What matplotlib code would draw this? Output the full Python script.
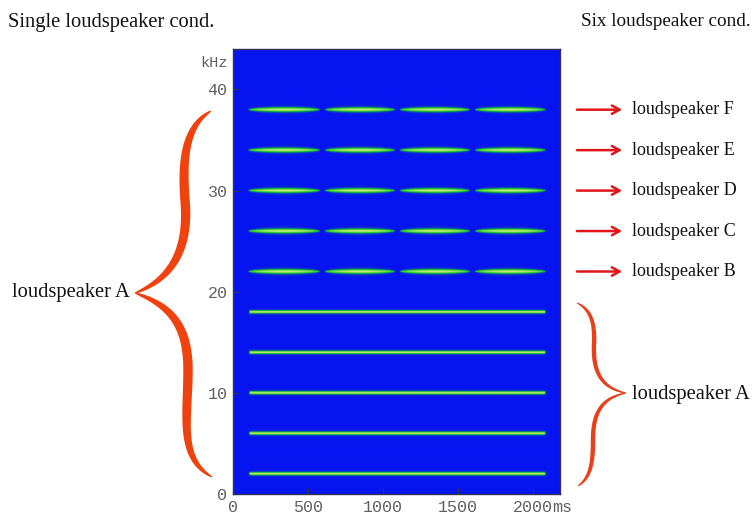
import matplotlib.pyplot as plt
import numpy as np
from matplotlib.colors import LinearSegmentedColormap
from matplotlib.patches import Polygon

# tones (kHz)
single_freqs = [2, 6, 10, 14, 18]          # continuous tones, loudspeaker A
six_freqs = [22, 26, 30, 34, 38]           # pulsed tones, loudspeakers B..F
six_labels = ['loudspeaker B', 'loudspeaker C', 'loudspeaker D',
              'loudspeaker E', 'loudspeaker F']

# timing (ms)
tone_on, tone_off = 100, 2090
burst_starts = [100, 610, 1110, 1610]
burst_ends = [580, 1080, 1580, 2085]

t_max, f_max = 2180, 44
x_ticks = [0, 500, 1000, 1500, 2000]
y_ticks = [0, 10, 20, 30, 40]

# build spectrogram-like image from the tone lists
t = np.arange(0, t_max, 2.0)
f = np.arange(0, f_max, 0.02)
T, F = np.meshgrid(t, f)
img = np.zeros_like(T)

for f0 in single_freqs:
    env = np.clip((T - tone_on) / 15, 0, 1) * np.clip((tone_off - T) / 15, 0, 1)
    img = np.maximum(img, env * np.exp(-(F - f0) ** 2 / (2 * 0.12 ** 2)))

for f0 in six_freqs:
    for t0, t1 in zip(burst_starts, burst_ends):
        ph = np.clip((T - t0) / (t1 - t0), 0, 1)
        w = np.sin(np.pi * ph) ** 0.35
        sig = 0.18 * w + 1e-6
        img = np.maximum(img, w ** 0.5 * np.exp(-(F - f0) ** 2 / (2 * sig ** 2)))

cmap = LinearSegmentedColormap.from_list(
    'spec', [(0, '#0614F0'), (0.25, '#0a4ab0'), (0.45, '#0e9a48'),
             (0.7, '#34d634'), (1, '#c8f070')])

fig = plt.figure(figsize=(7.54, 5.16), dpi=100)
W, H = 754, 516
ax = fig.add_axes([233 / W, 22 / H, 327 / W, 445 / H])
ax.imshow(img, extent=[0, t_max, 0, f_max], origin='lower', aspect='auto',
          cmap=cmap, vmin=0, vmax=1, interpolation='bilinear')
ax.set_xlim(0, t_max)
ax.set_ylim(0, f_max)
ax.set_xticks(x_ticks)
ax.set_xticklabels([str(v) for v in x_ticks])
ax.set_yticks(y_ticks)
ax.set_yticklabels([str(v) for v in y_ticks])
ax.tick_params(direction='in', length=4, color='#333333', labelcolor='#606060',
               labelsize=12, pad=4)
for lab in ax.get_xticklabels() + ax.get_yticklabels():
    lab.set_fontfamily('Liberation Mono')
for sp in ax.spines.values():
    sp.set_color('#333355')
    sp.set_linewidth(1)

ax.text(-0.015, 42.6, 'kHz', transform=ax.get_yaxis_transform(), ha='right',
        va='center', fontsize=11, color='#606060', family='Liberation Mono')
ax.annotate('ms', xy=(2000, 0), xycoords=('data', 'axes fraction'),
            xytext=(14, -4), textcoords='offset points', ha='left', va='top',
            fontsize=12, color='#606060', family='Liberation Mono')

# arrows and labels for the six-loudspeaker side
for f0, lab in zip(six_freqs, six_labels):
    ax.annotate('', xy=(1.19, f0), xycoords=('axes fraction', 'data'),
                xytext=(1.052, f0), textcoords=('axes fraction', 'data'),
                arrowprops=dict(arrowstyle='->,head_length=0.55,head_width=0.3',
                                color='#E0161B', lw=1.8, shrinkA=0, shrinkB=0))
    ax.text(1.22, f0, lab, transform=ax.get_yaxis_transform(), ha='left',
            va='center', fontsize=13, family='Liberation Serif', color='#111111')

# overlay in pixel coordinates for braces and titles
ov = fig.add_axes([0, 0, 1, 1])
ov.set_xlim(0, W)
ov.set_ylim(H, 0)
ov.axis('off')


def bez(p, n=60):
    p = np.array(p, float)
    s = np.linspace(0, 1, n)[:, None]
    return ((1 - s) ** 3) * p[0] + 3 * (1 - s) ** 2 * s * p[1] + 3 * (1 - s) * s ** 2 * p[2] + s ** 3 * p[3]


def arm(segs, wmax, color):
    c = np.vstack([bez(sg) for sg in segs])
    d = np.gradient(c, axis=0)
    d /= np.linalg.norm(d, axis=1)[:, None]
    nrm = np.column_stack([-d[:, 1], d[:, 0]])
    s = np.linspace(0, 1, len(c))
    w = wmax * np.sin(np.pi * s) ** 0.6 + 0.4
    poly = np.vstack([c + nrm * w[:, None], (c - nrm * w[:, None])[::-1]])
    ov.add_patch(Polygon(poly, closed=True, fc=color, ec='none'))


brace_col = '#F0420F'
# left brace (tip at 20 kHz)
arm([[(211, 111), (185, 126), (182, 160), (185, 200)],
     [(185, 200), (189, 245), (175, 278), (135, 293)]], 4.3, brace_col)
arm([[(135, 293), (170, 305), (188, 325), (188, 370)],
     [(188, 370), (188, 418), (178, 458), (212, 477)]], 4.3, brace_col)
# right brace (tip at 10 kHz)
arm([[(577, 303), (592, 310), (595, 325), (594, 345)],
     [(594, 345), (593, 370), (600, 388), (626, 393)]], 1.8, '#E8401A')
arm([[(626, 393), (600, 398), (593, 415), (593, 440)],
     [(593, 440), (593, 465), (590, 478), (578, 486)]], 1.8, '#E8401A')

serif = dict(family='Liberation Serif', color='#111111', va='center')
ov.text(8, 22, 'Single loudspeaker cond.', ha='left', fontsize=14.8, **serif)
ov.text(751, 22, 'Six loudspeaker cond.', ha='right', fontsize=13.8, **serif)
ov.text(12, 293, 'loudspeaker A', ha='left', fontsize=14.8, **serif)
ov.text(632, 395, 'loudspeaker A', ha='left', fontsize=14.8, **serif)

fig.savefig('out.png', dpi=100)
